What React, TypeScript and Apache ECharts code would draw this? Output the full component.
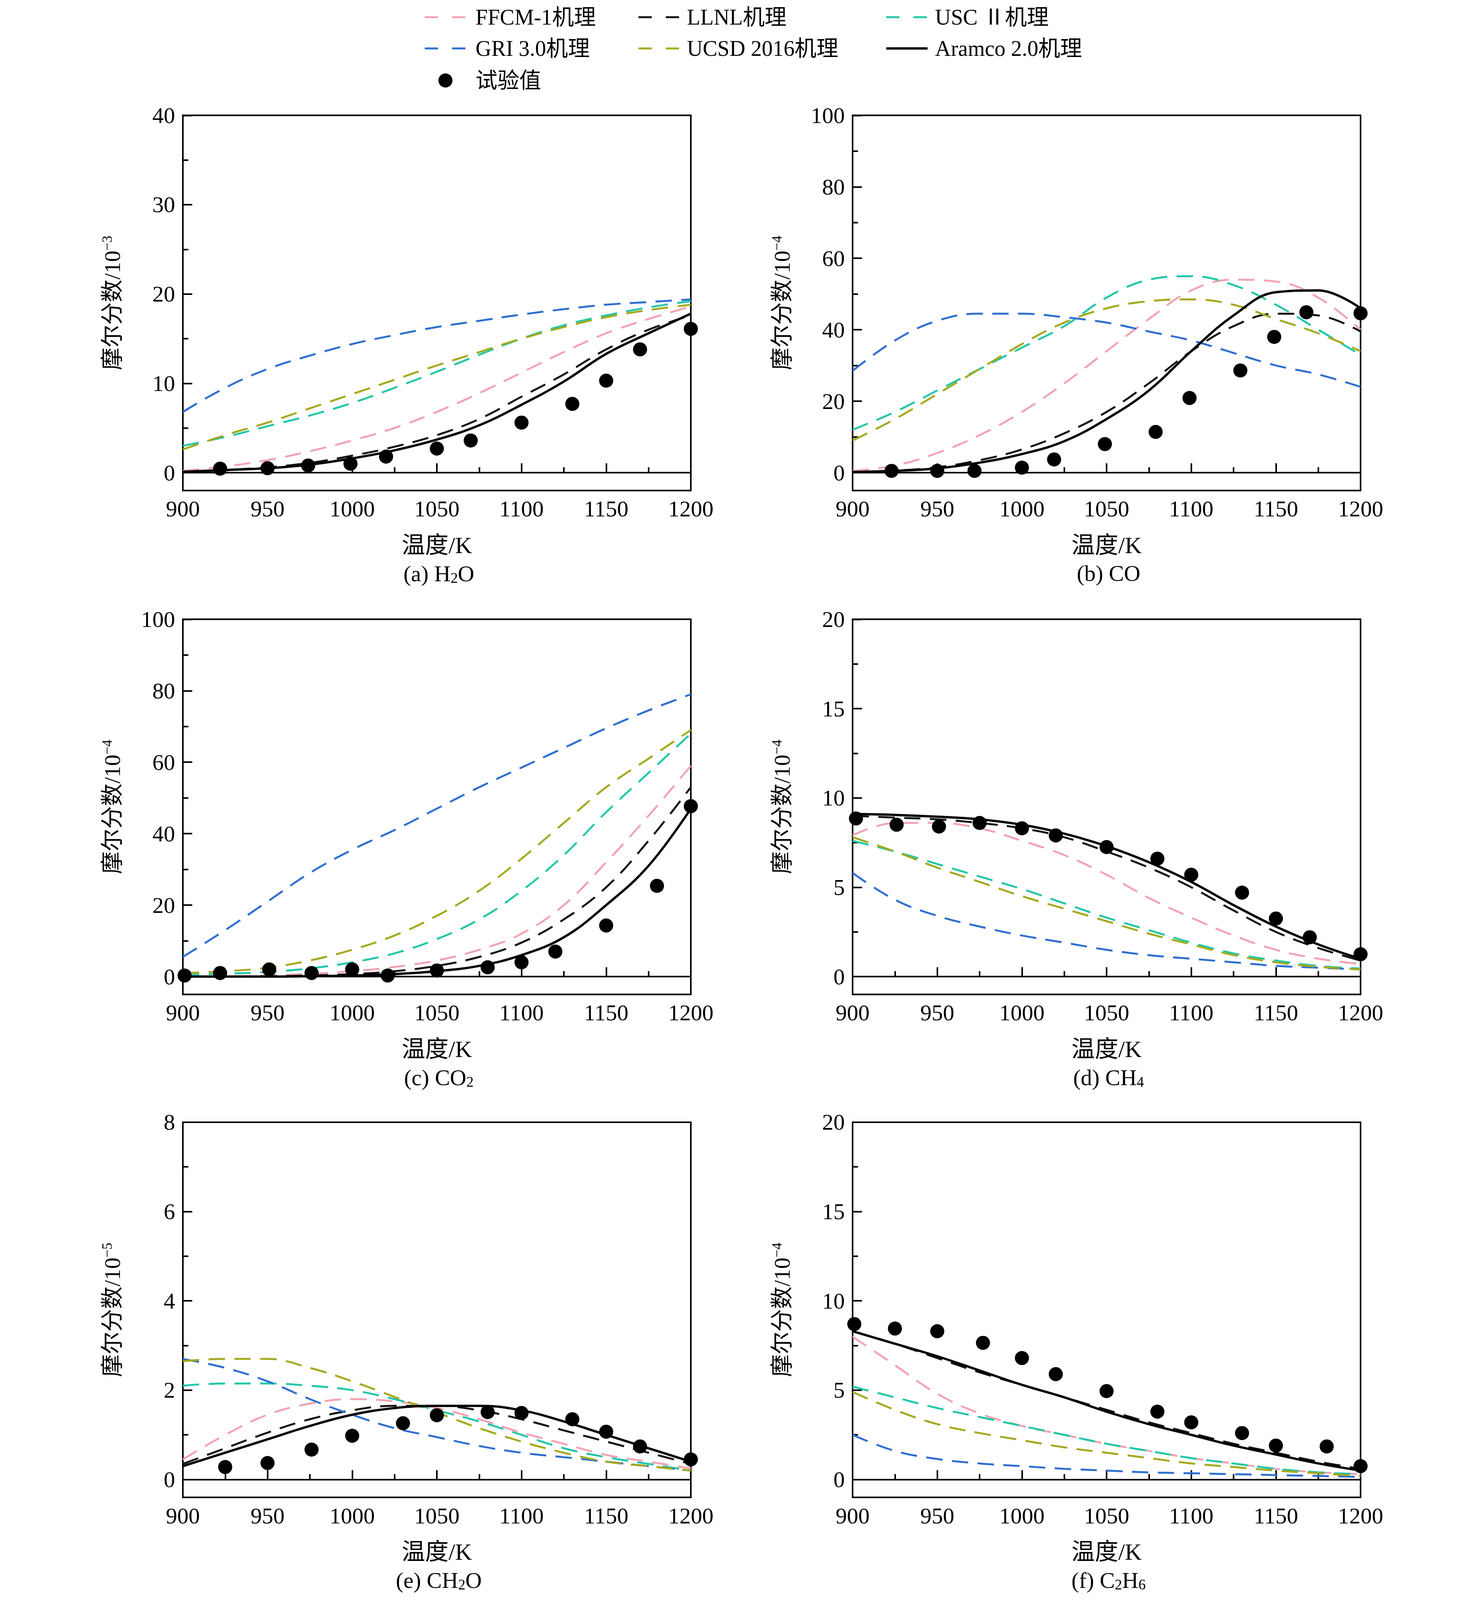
import { useEffect, useRef } from 'react'
import * as echarts from 'echarts'

const temps = [900, 925, 950, 975, 1000, 1025, 1050, 1075, 1100, 1125, 1150, 1175, 1200]
const mechs = ['FFCM-1机理', 'LLNL机理', 'USC Ⅱ机理', 'GRI 3.0机理', 'UCSD 2016机理', 'Aramco 2.0机理']
const colors = ['#f2a3b3', '#111111', '#22c7a8', '#2f6fd1', '#a5a91c', '#000000']
const expName = '试验值'

// order per panel: FFCM, LLNL, USC, GRI, UCSD, Aramco
const h2o = [
  [0.2, 0.7, 1.4, 2.4, 3.6, 5.0, 6.8, 8.9, 11.2, 13.5, 15.6, 17.2, 18.6],
  [0.1, 0.3, 0.6, 1.1, 1.9, 2.9, 4.2, 6.0, 8.5, 11.0, 13.8, 16.0, 17.6],
  [3.0, 4.0, 5.2, 6.4, 7.8, 9.5, 11.3, 13.2, 15.0, 16.5, 17.6, 18.5, 19.2],
  [6.8, 9.5, 11.6, 13.1, 14.4, 15.4, 16.3, 17.0, 17.7, 18.3, 18.8, 19.1, 19.4],
  [2.6, 4.2, 5.6, 7.2, 8.8, 10.4, 12.0, 13.5, 15.0, 16.3, 17.4, 18.2, 18.8],
  [0.1, 0.3, 0.5, 0.9, 1.6, 2.5, 3.7, 5.3, 7.6, 10.2, 13.3, 15.6, 17.8],
]
const h2oExp = [[922, 0.45], [950, 0.5], [974, 0.8], [999, 1.0], [1020, 1.8], [1050, 2.7], [1070, 3.6], [1100, 5.6], [1130, 7.7], [1150, 10.3], [1170, 13.8], [1200, 16.1]]

const co = [
  [0.5, 2, 5.5, 10.5, 17, 25, 34, 43, 51, 54, 53.5, 49, 40],
  [0.2, 0.6, 1.5, 3.5, 6.5, 11, 17, 25, 34, 41, 44.5, 44, 39.5],
  [12, 17, 23, 29, 35, 41, 49, 54, 55, 52.5, 47, 40, 33],
  [28.5, 37, 42.5, 44.5, 44.5, 43.5, 42, 39.5, 37, 33.5, 30, 27.5, 24],
  [9, 15, 22, 29, 36, 42, 46, 48, 48.5, 47, 43, 39, 34],
  [0.2, 0.5, 1.2, 2.8, 5.2, 8.8, 15, 23, 34, 44, 50.5, 51, 46],
]
const coExp = [[923, 0.5], [950, 0.5], [972, 0.5], [1000, 1.4], [1019, 3.7], [1049, 8], [1079, 11.4], [1099, 20.9], [1129, 28.6], [1149, 38], [1168, 44.9], [1200, 44.6]]

const co2 = [
  [0, 0.1, 0.3, 0.8, 1.5, 2.7, 4.5, 7.5, 12, 20, 32, 45, 59],
  [0, 0, 0.1, 0.3, 0.7, 1.5, 3, 5.5, 9.5, 16, 25, 38, 53],
  [0.5, 0.8, 1.3, 2.3, 4, 6.5, 10.5, 16, 24, 34, 46, 57, 68],
  [5.5, 13, 21, 29, 35.5, 41, 47, 53, 58.5, 64, 69.5, 74.5, 79],
  [1, 1.5, 2.5, 4.5, 7.5, 11.5, 17, 24, 33, 43, 53, 61, 69],
  [0, 0, 0, 0.1, 0.3, 0.7, 1.5, 3, 6, 11, 20, 31, 47],
]
const co2Exp = [[901, 0.3], [922, 1], [951, 2], [976, 1], [1000, 2], [1021, 0.3], [1050, 1.7], [1080, 2.6], [1100, 4], [1120, 7], [1150, 14.3], [1180, 25.4], [1200, 47.7]]

const ch4 = [
  [7.9, 8.6, 8.6, 8.3, 7.6, 6.8, 5.7, 4.4, 3.3, 2.3, 1.5, 1.0, 0.7],
  [9.0, 8.9, 8.8, 8.6, 8.3, 7.8, 7.0, 6.1, 5.0, 3.7, 2.5, 1.6, 0.9],
  [7.6, 7.0, 6.3, 5.6, 4.9, 4.1, 3.3, 2.6, 1.9, 1.3, 0.9, 0.6, 0.45],
  [5.8, 4.3, 3.4, 2.8, 2.3, 1.9, 1.5, 1.2, 1.0, 0.8, 0.6, 0.5, 0.4],
  [7.8, 7.0, 6.1, 5.3, 4.5, 3.8, 3.1, 2.4, 1.8, 1.2, 0.8, 0.55, 0.4],
  [9.1, 9.05, 8.95, 8.8, 8.5, 8.0, 7.3, 6.4, 5.3, 4.0, 2.8, 1.8, 1.0],
]
const ch4Exp = [[902, 8.85], [926, 8.5], [951, 8.4], [975, 8.6], [1000, 8.3], [1020, 7.9], [1050, 7.25], [1080, 6.6], [1100, 5.7], [1130, 4.7], [1150, 3.25], [1170, 2.2], [1200, 1.25]]

const ch2o = [
  [0.45, 1.0, 1.45, 1.7, 1.8, 1.75, 1.6, 1.35, 1.05, 0.8, 0.55, 0.4, 0.25],
  [0.35, 0.7, 1.05, 1.35, 1.55, 1.65, 1.65, 1.55, 1.35, 1.1, 0.85, 0.6, 0.35],
  [2.1, 2.15, 2.15, 2.1, 2.0, 1.8, 1.55, 1.3, 1.0, 0.7, 0.5, 0.35, 0.2],
  [2.7, 2.5, 2.2, 1.8, 1.45, 1.15, 0.95, 0.75, 0.6, 0.5, 0.4, 0.3, 0.2],
  [2.65, 2.7, 2.7, 2.5, 2.2, 1.85, 1.5, 1.15, 0.85, 0.6, 0.4, 0.3, 0.2],
  [0.3, 0.6, 0.9, 1.2, 1.45, 1.6, 1.65, 1.65, 1.55, 1.3, 1.0, 0.7, 0.4],
]
const ch2oExp = [[925, 0.28], [950, 0.37], [976, 0.67], [1000, 0.98], [1030, 1.26], [1050, 1.44], [1080, 1.51], [1100, 1.49], [1130, 1.35], [1150, 1.07], [1170, 0.74], [1200, 0.45]]

const c2h6 = [
  [8.0, 6.4, 4.8, 3.7, 3.0, 2.5, 2.0, 1.6, 1.2, 0.9, 0.6, 0.4, 0.3],
  [8.3, 7.6, 6.8, 6.0, 5.3, 4.6, 3.9, 3.2, 2.6, 2.0, 1.5, 1.0, 0.6],
  [5.2, 4.6, 4.0, 3.5, 3.0, 2.5, 2.0, 1.6, 1.2, 0.9, 0.6, 0.4, 0.3],
  [2.5, 1.6, 1.15, 0.9, 0.75, 0.6, 0.5, 0.4, 0.35, 0.3, 0.25, 0.2, 0.15],
  [4.9, 3.9, 3.1, 2.6, 2.2, 1.8, 1.5, 1.2, 0.9, 0.7, 0.5, 0.35, 0.2],
  [8.3, 7.6, 6.9, 6.1, 5.3, 4.6, 3.8, 3.1, 2.5, 1.9, 1.4, 0.9, 0.5],
]
const c2h6Exp = [[901, 8.7], [925, 8.45], [950, 8.3], [977, 7.65], [1000, 6.8], [1020, 5.9], [1050, 4.95], [1080, 3.8], [1100, 3.2], [1130, 2.6], [1150, 1.9], [1180, 1.85], [1200, 0.75]]

const panels = [
  { label: '(a) H{s|2}O', unit: '−3', curves: h2o, exp: h2oExp, min: -2, max: 40, major: 10 },
  { label: '(b) CO', unit: '−4', curves: co, exp: coExp, min: -5, max: 100, major: 20 },
  { label: '(c) CO{s|2}', unit: '−4', curves: co2, exp: co2Exp, min: -5, max: 100, major: 20 },
  { label: '(d) CH{s|4}', unit: '−4', curves: ch4, exp: ch4Exp, min: -1, max: 20, major: 5 },
  { label: '(e) CH{s|2}O', unit: '−5', curves: ch2o, exp: ch2oExp, min: -0.4, max: 8, major: 2 },
  { label: '(f) C{s|2}H{s|6}', unit: '−4', curves: c2h6, exp: c2h6Exp, min: -1, max: 20, major: 5 },
]

const FONT = '"Liberation Serif", "Noto Sans CJK SC", serif'

function range(step: number, max: number) {
  const out: number[] = []
  for (let v = 0; v <= max + 1e-9; v += step) out.push(+v.toFixed(4))
  return out
}

// reference layout is 4896 px tall; k squeezes it into the real viewport
function buildOption(k: number) {
  const Y = (p: number) => p * k - 8
  const X = (p: number) => p - 8
  const lefts = [X(468), X(2182)]
  const tops = [Y(353), Y(1895), Y(3434)]
  const GW = 1300
  const GH = 1148 * k

  const grid: any[] = []
  const xAxis: any[] = []
  const yAxis: any[] = []
  const series: any[] = []
  const title: any[] = []
  const axisLine = { lineStyle: { color: '#000', width: 4 } }
  const label = { color: '#000', fontSize: 58, fontFamily: FONT }

  panels.forEach((p, i) => {
    const col = i % 2
    const row = Math.floor(i / 2)
    const left = lefts[col]
    const top = tops[row]
    grid.push({ left, top, width: GW, height: GH, show: true, borderColor: '#000', borderWidth: 4, backgroundColor: 'transparent' })
    xAxis.push({
      type: 'value', gridIndex: i, min: 900, max: 1200, interval: 50,
      name: '温度/K', nameLocation: 'middle', nameGap: 110,
      nameTextStyle: { ...label, fontSize: 60 },
      axisLine, splitLine: { show: false },
      axisTick: { inside: true, length: 24, lineStyle: { color: '#000', width: 4 } },
      minorTick: { show: true, splitNumber: 2, length: 14, lineStyle: { color: '#000', width: 4 } },
      axisLabel: { ...label, margin: 18, formatter: (v: number) => String(v) },
    })
    const majors = range(p.major, p.max)
    const minors = range(p.major / 2, p.max)
    yAxis.push({
      type: 'value', gridIndex: i, min: p.min, max: p.max,
      name: '摩尔分数/10{u|' + p.unit + '}', nameLocation: 'middle', nameGap: 150,
      nameTextStyle: { ...label, fontSize: 58, rich: { u: { fontSize: 36, fontFamily: FONT, padding: [0, 0, 26, 0] } } },
      axisLine, splitLine: { show: false },
      axisTick: { inside: true, length: 24, customValues: majors, lineStyle: { color: '#000', width: 4 } },
      axisLabel: { ...label, margin: 20, customValues: majors },
    })
    yAxis.push({
      type: 'value', gridIndex: i, min: p.min, max: p.max, position: 'left',
      axisLine: { show: false }, splitLine: { show: false },
      axisTick: { inside: true, length: 14, customValues: minors, lineStyle: { color: '#000', width: 4 } },
      axisLabel: { show: false, customValues: minors },
    })
    p.curves.forEach((vals, c) => {
      const solid = c === 5
      series.push({
        name: mechs[c], type: 'line', xAxisIndex: i, yAxisIndex: i * 2,
        data: temps.map((t, j) => [t, vals[j]]),
        smooth: 0.4, symbol: 'none', z: solid ? 4 : 3,
        lineStyle: { color: colors[c], width: solid ? 6 : 5, type: solid ? 'solid' : [42, 24] },
      })
    })
    series.push({
      name: expName, type: 'scatter', xAxisIndex: i, yAxisIndex: i * 2,
      data: p.exp, symbol: 'circle', symbolSize: 36, z: 5,
      itemStyle: { color: '#000', opacity: 1 },
    })
    title.push({
      text: p.label, left: left + GW / 2, top: top + GH + 178, textAlign: 'center',
      textStyle: {
        ...label, fontWeight: 'normal', fontSize: 58,
        rich: { s: { fontSize: 37, fontFamily: FONT, color: '#000', padding: [22, 0, 0, 0] } },
      },
    })
  })

  // legend drawn by hand: three columns
  const graphic: any[] = []
  const rows = [36, 116, 198]
  const cols = [{ icon: X(1087), text: X(1217) }, { icon: X(1634), text: X(1758) }, { icon: X(2268), text: X(2393) }]
  const items = [
    { c: 0, r: 0, m: 0 }, { c: 1, r: 0, m: 1 }, { c: 2, r: 0, m: 2 },
    { c: 0, r: 1, m: 3 }, { c: 1, r: 1, m: 4 }, { c: 2, r: 1, m: 5 },
  ]
  const legendFont = `56px ${FONT}`
  items.forEach(({ c, r, m }) => {
    const x0 = cols[c].icon
    const y = rows[r]
    if (m === 5) {
      graphic.push({ type: 'line', shape: { x1: x0, y1: y, x2: x0 + 106, y2: y }, style: { stroke: colors[m], lineWidth: 6 } })
    } else {
      graphic.push({ type: 'line', shape: { x1: x0, y1: y, x2: x0 + 106, y2: y }, style: { stroke: colors[m], lineWidth: 5, lineDash: [34, 36] } })
    }
    graphic.push({ type: 'text', x: cols[c].text, y, style: { text: mechs[m], fill: '#000', font: legendFont, verticalAlign: 'middle' } })
  })
  graphic.push({ type: 'circle', shape: { cx: X(1140), cy: rows[2], r: 18 }, style: { fill: '#000' } })
  graphic.push({ type: 'text', x: cols[0].text, y: rows[2], style: { text: expName, fill: '#000', font: legendFont, verticalAlign: 'middle' } })

  return { animation: false, backgroundColor: '#fff', grid, xAxis, yAxis, series, title, graphic }
}

export default function App() {
  const ref = useRef<HTMLDivElement>(null)
  const h = window.innerHeight - 16
  useEffect(() => {
    if (!ref.current) return
    const chart = echarts.init(ref.current, undefined, { renderer: 'svg' })
    chart.setOption(buildOption(window.innerHeight / 4896) as any)
    return () => chart.dispose()
  }, [])
  return <div ref={ref} style={{ width: 3764, height: h }} />
}
